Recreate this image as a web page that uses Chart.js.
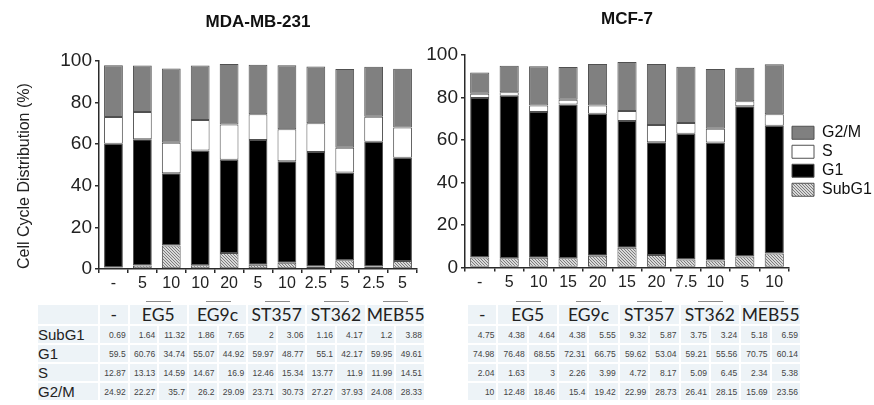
<!DOCTYPE html>
<html>
<head>
<meta charset="utf-8">
<script src="https://cdn.jsdelivr.net/npm/chart.js@4.4.0/dist/chart.umd.min.js"></script>
<style>
  body { margin: 0; width: 874px; height: 405px; background: #fff; position: relative; overflow: hidden;
         font-family: 'Liberation Sans', Arial, sans-serif; }
  .plot { position: absolute; top: 0; height: 300px; }
  #mdaBox { left: 0; width: 420px; }
  #mcfBox { left: 420px; width: 454px; }
  table.data { position: absolute; top: 303px; border-collapse: collapse; table-layout: fixed; background: #edf3f7; }
  #mdaTable { left: 36px; width: 390px; }
  #mcfTable { left: 466px; width: 336px; }
  table.data td { border: 2px solid #fff; padding: 0; white-space: nowrap; overflow: hidden; box-sizing: border-box; }
  tr.head td { height: 21px; line-height: 17px; font-family: Lato, 'Open Sans', sans-serif; font-size: 17.5px; color: #222;
               text-align: center; vertical-align: middle; position: relative; overflow: visible; }
  tr.head td.grp::before { content: ''; position: absolute; top: -4px; left: 50%; width: 25px; margin-left: -12px;
               border-top: 1px solid #8a8a8a; }
  tr.row td { height: 19px; line-height: 13px; font-size: 8.5px; color: #444; text-align: right;
              padding-right: 2px; padding-top: 2px; vertical-align: middle; }
  tr.row td.lab { font-size: 15px; color: #222; text-align: left; padding: 0; }
</style>
</head>
<body>
<div class="plot" id="mdaBox"><canvas id="mda"></canvas></div>
<div class="plot" id="mcfBox"><canvas id="mcf"></canvas></div>
<table class="data" id="mdaTable"></table>
<table class="data" id="mcfTable"></table>
<script>
// phases, bottom to top of each stacked bar
const phases = ['SubG1', 'G1', 'S', 'G2/M'];
const groups = ['-', 'EG5', 'EG9c', 'ST357', 'ST362', 'MEB55'];
const groupSpans = [1, 2, 2, 2, 2, 2];
const yTicks = [0, 20, 40, 60, 80, 100];

// MDA-MB-231
const mdaDoses = ['-', '5', '10', '10', '20', '5', '10', '2.5', '5', '2.5', '5'];
const mdaSubG1 = [0.69, 1.64, 11.32, 1.86, 7.65, 2, 3.06, 1.16, 4.17, 1.2, 3.88];
const mdaG1 = [59.5, 60.76, 34.74, 55.07, 44.92, 59.97, 48.77, 55.1, 42.17, 59.95, 49.61];
const mdaS = [12.87, 13.13, 14.59, 14.67, 16.9, 12.46, 15.34, 13.77, 11.9, 11.99, 14.51];
const mdaG2M = [24.92, 22.27, 35.7, 26.2, 29.09, 23.71, 30.73, 27.27, 37.93, 24.08, 28.33];

// MCF-7
const mcfDoses = ['-', '5', '10', '15', '20', '15', '20', '7.5', '10', '5', '10'];
const mcfSubG1 = [4.75, 4.38, 4.64, 4.38, 5.55, 9.32, 5.87, 3.75, 3.24, 5.18, 6.59];
const mcfG1 = [74.98, 76.48, 68.55, 72.31, 66.75, 59.62, 53.04, 59.21, 55.56, 70.75, 60.14];
const mcfS = [2.04, 1.63, 3, 2.26, 3.99, 4.72, 8.17, 5.09, 6.45, 2.34, 5.38];
const mcfG2M = [10, 12.48, 18.46, 15.4, 19.42, 22.99, 28.73, 26.41, 28.15, 15.69, 23.56];

const AXIS = '#2a2a2a';
const FONT = "'Liberation Sans', Arial, sans-serif";

function hatchPattern(ctx) {
    const c = document.createElement('canvas');
    c.width = 3; c.height = 3;
    const g = c.getContext('2d');
    g.fillStyle = '#d8d8d8';
    g.fillRect(0, 0, 3, 3);
    g.strokeStyle = '#7c7c7c';
    g.lineWidth = 1;
    g.beginPath();
    g.moveTo(0, 0); g.lineTo(3, 3);
    g.moveTo(-1, 2); g.lineTo(1, 4);
    g.moveTo(2, -1); g.lineTo(4, 1);
    g.stroke();
    return ctx.createPattern(c, 'repeat');
}

function makeChart(id, title, doses, series, cfg) {
    const canvas = document.getElementById(id);
    const fills = [hatchPattern(canvas.getContext('2d')), '#000000', '#ffffff', '#808080'];
    return new Chart(canvas, {
        type: 'bar',
        data: {
            labels: doses,
            datasets: phases.map((p, i) => ({
                label: p,
                data: series[i],
                backgroundColor: fills[i],
                borderColor: '#505050',
                borderWidth: 1,
                borderSkipped: false,
                barPercentage: 0.65,
                categoryPercentage: 1
            }))
        },
        options: {
            responsive: true,
            maintainAspectRatio: false,
            animation: false,
            layout: { autoPadding: false, padding: { right: cfg.padRight } },
            plugins: {
                tooltip: { enabled: false },
                title: {
                    display: true,
                    text: title,
                    fullSize: false,
                    color: '#111',
                    font: { family: FONT, size: 17, weight: 'bold', lineHeight: 1.2 },
                    padding: cfg.titlePad
                },
                legend: {
                    display: cfg.legend,
                    position: 'right',
                    fullSize: false,
                    reverse: true,
                    maxWidth: 85,
                    labels: {
                        color: '#111',
                        font: { family: FONT, size: 16 },
                        boxWidth: 22,
                        boxHeight: 13,
                        padding: 3
                    }
                }
            },
            scales: {
                x: {
                    stacked: true,
                    afterFit: s => { s.height = cfg.xHeight; },
                    grid: { display: true, drawOnChartArea: false, drawTicks: true, tickLength: 4, color: AXIS, lineWidth: 1.5 },
                    border: { display: true, color: AXIS, width: 1.5 },
                    ticks: { color: '#222', font: { family: FONT, size: 16 }, padding: 1, maxRotation: 0, autoSkip: false }
                },
                y: {
                    stacked: true,
                    min: 0,
                    max: 100,
                    afterFit: s => { s.width = cfg.yWidth; },
                    afterBuildTicks: s => { s.ticks = yTicks.map(v => ({ value: v })); },
                    grid: { display: true, drawOnChartArea: false, drawTicks: true, tickLength: 4, color: AXIS, lineWidth: 1.5 },
                    border: { display: true, color: AXIS, width: 1.5 },
                    ticks: { color: '#222', font: { family: FONT, size: 19 }, padding: 3 },
                    title: {
                        display: cfg.yTitle,
                        text: 'Cell Cycle Distribution (%)',
                        align: 'start',
                        color: '#222',
                        font: { family: FONT, size: 16 },
                        padding: { top: 15, bottom: 0 }
                    }
                }
            }
        }
    });
}

function buildTable(id, series, withLabels) {
    const t = document.getElementById(id);
    let html = '<colgroup>';
    if (withLabels) html += '<col style="width:62px">';
    for (let i = 0; i < series[0].length; i++) html += '<col>';
    html += '</colgroup><tr class="head">';
    if (withLabels) html += '<td></td>';
    groups.forEach((g, i) => {
        html += `<td colspan="${groupSpans[i]}" class="${groupSpans[i] > 1 ? 'grp' : ''}">${g}</td>`;
    });
    html += '</tr>';
    phases.forEach((p, r) => {
        html += '<tr class="row">';
        if (withLabels) html += `<td class="lab">${p}</td>`;
        series[r].forEach(v => { html += `<td>${v}</td>`; });
        html += '</tr>';
    });
    t.innerHTML = html;
}

makeChart('mda', 'MDA-MB-231', mdaDoses, [mdaSubG1, mdaG1, mdaS, mdaG2M], {
    padRight: 3, titlePad: { top: 12, bottom: 28.6 }, xHeight: 31, yWidth: 99, yTitle: true, legend: false
});
makeChart('mcf', 'MCF-7', mcfDoses, [mcfSubG1, mcfG1, mcfS, mcfG2M], {
    padRight: 0, titlePad: { top: 9, bottom: 25.6 }, xHeight: 32.5, yWidth: 45, yTitle: false, legend: true
});

buildTable('mdaTable', [mdaSubG1, mdaG1, mdaS, mdaG2M], true);
buildTable('mcfTable', [mcfSubG1, mcfG1, mcfS, mcfG2M], false);
</script>
</body>
</html>
